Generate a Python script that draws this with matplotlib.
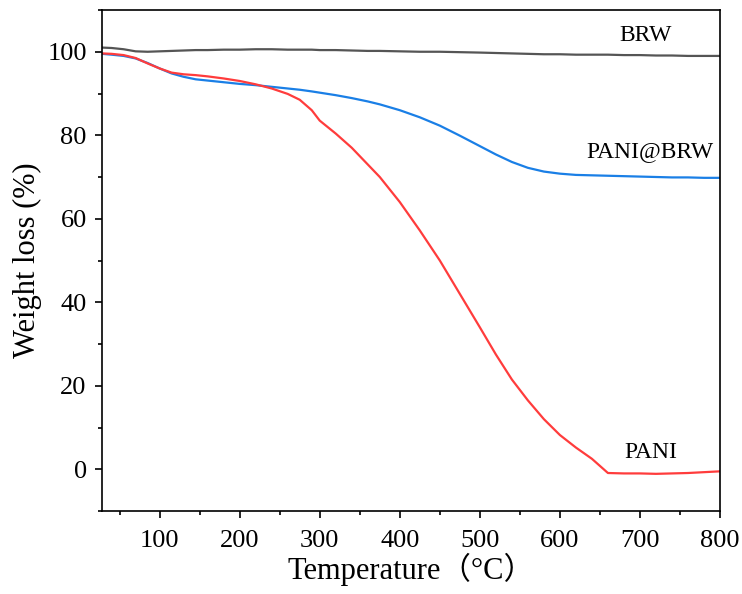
import matplotlib.pyplot as plt
from matplotlib.ticker import MultipleLocator

# temperature (°C) and weight (%)
temp = [28, 40, 55, 70, 85, 100, 115, 130, 145, 160, 180, 200, 220, 240, 260, 275,
        290, 300, 320, 340, 360, 375, 400, 425, 450, 475, 500, 520, 540, 560, 580,
        600, 620, 640, 660, 680, 700, 720, 740, 760, 780, 800]

brw = [101.0, 100.9, 100.6, 100.1, 100.0, 100.1, 100.2, 100.3, 100.4, 100.4, 100.5,
       100.5, 100.6, 100.6, 100.5, 100.5, 100.5, 100.4, 100.4, 100.3, 100.2, 100.2,
       100.1, 100.0, 100.0, 99.9, 99.8, 99.7, 99.6, 99.5, 99.4, 99.4, 99.3, 99.3,
       99.3, 99.2, 99.2, 99.1, 99.1, 99.0, 99.0, 99.0]

pani_brw = [99.5, 99.3, 99.0, 98.4, 97.3, 96.0, 94.8, 94.0, 93.4, 93.1, 92.7, 92.3,
            92.0, 91.6, 91.2, 90.9, 90.5, 90.2, 89.6, 88.9, 88.1, 87.4, 86.0, 84.3,
            82.3, 79.9, 77.4, 75.4, 73.6, 72.2, 71.3, 70.8, 70.5, 70.4, 70.3, 70.2,
            70.1, 70.0, 69.9, 69.9, 69.8, 69.8]

pani = [99.6, 99.5, 99.2, 98.5, 97.2, 96.0, 95.0, 94.6, 94.4, 94.1, 93.6, 93.0,
        92.2, 91.2, 89.9, 88.5, 86.0, 83.5, 80.4, 77.0, 73.0, 70.0, 64.0, 57.2,
        50.0, 42.0, 34.0, 27.5, 21.5, 16.5, 12.0, 8.2, 5.2, 2.5, -0.9, -1.0,
        -1.0, -1.1, -1.0, -0.9, -0.7, -0.5]

labels = ['BRW', 'PANI@BRW', 'PANI']
label_x = [707, 713, 714]
label_y = [104, 76, 4]

serif = ['Liberation Serif', 'Noto Sans CJK SC']
plt.rcParams['font.family'] = serif

fig = plt.figure(figsize=(7.42, 5.94), dpi=100)
ax = fig.add_axes([102 / 742, 1 - 511 / 594, 618 / 742, 501 / 594])

ax.plot(temp, brw, color='#555555', lw=1.6)
ax.plot(temp, pani_brw, color='#1a7fe6', lw=1.6)
ax.plot(temp, pani, color='#ff3c3c', lw=1.6)

for t, x, y in zip(labels, label_x, label_y):
    ax.text(x, y, t, fontsize=17, ha='center', va='center')

ax.set_xlim(28, 800)
ax.set_ylim(-10, 110)
ax.xaxis.set_major_locator(MultipleLocator(100))
ax.xaxis.set_minor_locator(MultipleLocator(50))
ax.yaxis.set_major_locator(MultipleLocator(20))
ax.yaxis.set_minor_locator(MultipleLocator(10))
ax.tick_params(which='major', direction='out', length=5, width=1.2, labelsize=19)
ax.tick_params(which='minor', direction='out', length=3, width=1.2)
ax.tick_params(axis='x', which='major', pad=9)
ax.tick_params(axis='y', which='major', pad=6)
for s in ax.spines.values():
    s.set_linewidth(1.2)

ax.set_xlabel('Temperature（°C）', fontsize=22, labelpad=0)
ax.set_ylabel('Weight loss (%)', fontsize=22, labelpad=4)

fig.savefig('out.png', dpi=100)
